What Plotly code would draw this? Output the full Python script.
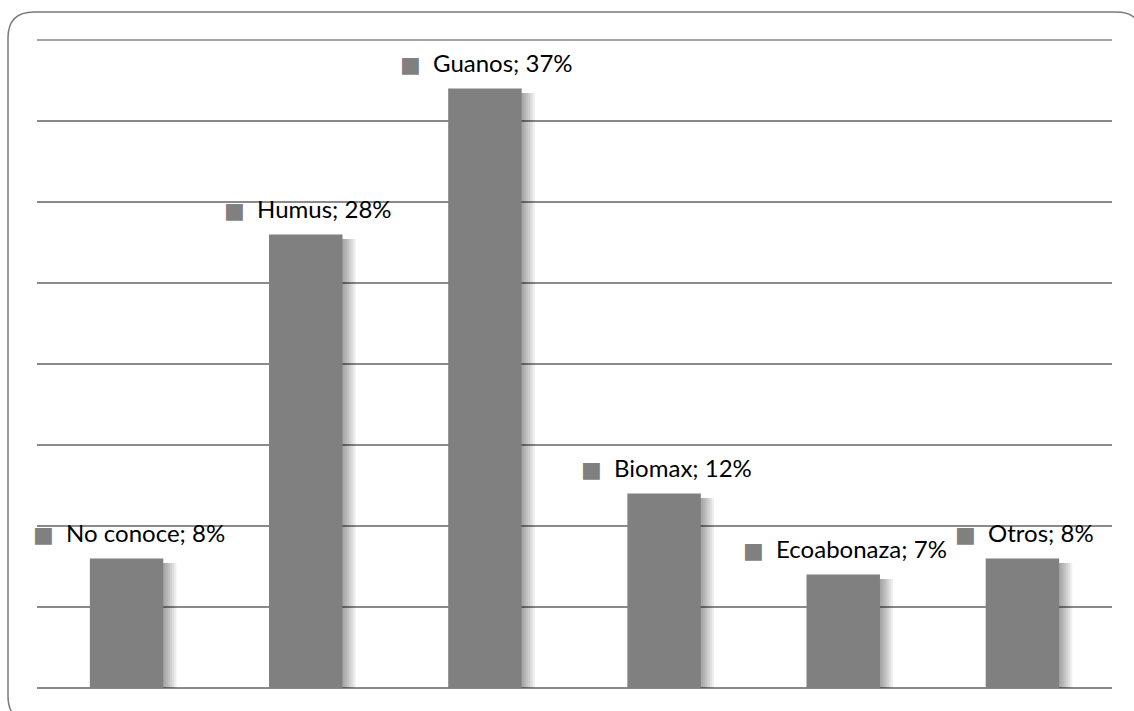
import plotly.graph_objects as go

# Tipos de abono conocidos (porcentaje de respuestas)
categorias = ["No conoce", "Humus", "Guanos", "Biomax", "Ecoabonaza", "Otros"]
porcentajes = [8, 28, 37, 12, 7, 8]

BAR_COLOR = "#808080"
GRID_COLOR = "#8a8a8a"
BAR_WIDTH = 0.41

W, H = 1134, 711
ML, MR, MT, MB = 37, 22, 40, 23
Y_MAX = 40
plot_w = W - ML - MR
plot_h = H - MT - MB
px_per_cat = plot_w / len(categorias)
px_per_unit = plot_h / Y_MAX

fig = go.Figure()

# soft drop shadow behind each bar, built from a few translucent layers
for k in range(6, 0, -1):
    dx = 2.2 * k / px_per_cat
    fig.add_trace(go.Bar(
        x=categorias,
        y=[v - 4.5 / px_per_unit for v in porcentajes],
        width=BAR_WIDTH,
        offset=-BAR_WIDTH / 2 + dx,
        marker=dict(color="rgba(0,0,0,0.065)", line=dict(width=0)),
        hoverinfo="skip",
        showlegend=False,
    ))

fig.add_trace(go.Bar(
    x=categorias,
    y=porcentajes,
    width=BAR_WIDTH,
    offset=-BAR_WIDTH / 2,
    marker=dict(color=BAR_COLOR, line=dict(width=0)),
    showlegend=False,
))

# data labels: legend key square followed by "categoria; valor%"
for cat, val in zip(categorias, porcentajes):
    fig.add_annotation(
        x=cat, y=val, xref="x", yref="y",
        text=(f"<span style='color:{BAR_COLOR};font-family:DejaVu Sans;"
              f"font-size:22px'>■</span>\u00a0\u00a0{cat}; {val}%"),
        showarrow=False,
        xanchor="center", yanchor="middle",
        yshift=26, xshift=2,
        font=dict(family="Lato, 'Open Sans', sans-serif", size=24, color="#000000"),
    )

# top gridline (at the upper edge of the value axis)
fig.add_shape(
    type="line", xref="paper", yref="paper",
    x0=0, x1=1, y0=1, y1=1,
    line=dict(color=GRID_COLOR, width=1.5),
    layer="below",
)

# rounded frame around the chart area
def px_to_paper(px, py):
    return (px - ML) / plot_w, (H - MB - py) / plot_h

def rounded_rect(x0, y0, x1, y1, r):
    def p(a, b):
        u, v = px_to_paper(a, b)
        return f"{u:.5f},{v:.5f}"
    return " ".join([
        f"M {p(x0 + r, y0)}",
        f"L {p(x1 - r, y0)}",
        f"Q {p(x1, y0)} {p(x1, y0 + r)}",
        f"L {p(x1, y1 - r)}",
        f"Q {p(x1, y1)} {p(x1 - r, y1)}",
        f"L {p(x0 + r, y1)}",
        f"Q {p(x0, y1)} {p(x0, y1 - r)}",
        f"L {p(x0, y0 + r)}",
        f"Q {p(x0, y0)} {p(x0 + r, y0)}",
        "Z",
    ])

fig.add_shape(
    type="path", xref="paper", yref="paper",
    path=rounded_rect(8, 12, 1142, 722, 26),
    line=dict(color="#7a7a7a", width=1.5),
    layer="above",
)

fig.update_layout(
    width=W, height=H,
    margin=dict(l=ML, r=MR, t=MT, b=MB, pad=0),
    paper_bgcolor="white",
    plot_bgcolor="white",
    barmode="overlay",
    showlegend=False,
    xaxis=dict(
        range=[-0.5, len(categorias) - 0.5],
        showticklabels=False, showgrid=False, zeroline=False,
        showline=False, ticks="", fixedrange=True,
    ),
    yaxis=dict(
        range=[0, Y_MAX], tickmode="linear", tick0=0, dtick=5,
        showticklabels=False,
        showgrid=True, gridcolor=GRID_COLOR, gridwidth=1.5,
        zeroline=True, zerolinecolor=GRID_COLOR, zerolinewidth=1.5,
        showline=False, ticks="", fixedrange=True,
    ),
)

fig.write_html("out.html")
